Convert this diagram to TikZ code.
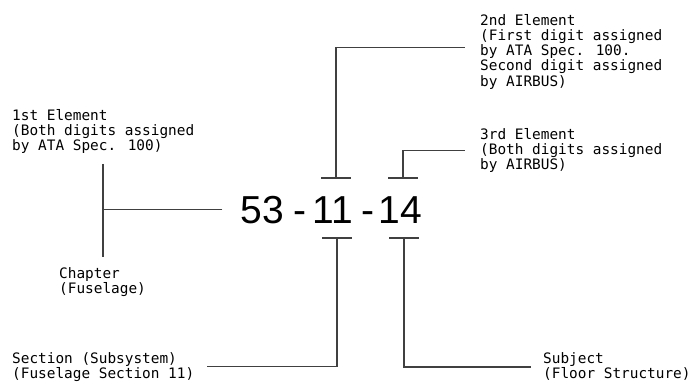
\documentclass[tikz,border=0pt]{standalone}
\usepackage{fontspec}
\newfontfamily\labelfont{DejaVu Sans Mono}
\newfontfamily\numfont{Liberation Sans}
\usetikzlibrary{positioning}
\tikzstyle{line} = [line width=1.5pt, draw=black!75]
\tikzstyle{desc} = [font=\labelfont\fontsize{14.4}{15.3}\selectfont, align=left, inner sep=0pt, anchor=base west]
\tikzstyle{digits} = [font=\numfont\fontsize{39}{39}\selectfont, inner sep=0pt]

\begin{document}
\begin{tikzpicture}[x=1pt, y=-1pt]
\useasboundingbox (0,0) rectangle (691,381);
\node (n53) [digits, anchor=base west] at (240.4,223) {53};
\node (h1) [digits, base right=9.5pt of n53] {-};
\node (n11) [digits, base right=5.5pt of h1] {11};
\node (h2) [digits, base right=8pt of n11] {-};
\node (n14) [digits, base right=3.5pt of h2] {14};

\coordinate (t11) at ([xshift=3pt, yshift=18pt]n11.north);
\coordinate (b11) at ([xshift=4pt, yshift=-15pt]n11.south);
\coordinate (t14) at ([xshift=3pt, yshift=18pt]n14.north);
\coordinate (b14) at ([xshift=4pt, yshift=-15pt]n14.south);
\foreach \t in {t11, b11, t14, b14}
  \draw [line] ([xshift=-15pt]\t) -- ([xshift=15pt]\t);

% base is the last line of each text
\node (first) [desc] at (12,150.6) {1st Element\\(Both digits assigned\\by ATA Spec. 100)};
\node (second) [desc] at (480,86.2) {2nd Element\\(First digit assigned\\by ATA Spec. 100.\\Second digit assigned\\by AIRBUS)};
\node (third) [desc] at (480,169.6) {3rd Element\\(Both digits assigned\\by AIRBUS)};
\node (chapter) [desc] at (59,293.3) {Chapter\\(Fuselage)};
\node (section) [desc] at (12,378.3) {Section (Subsystem)\\(Fuselage Section 11)};
\node (subject) [desc] at (543,378.3) {Subject\\(Floor Structure)};

\draw [line, shorten <=10pt, shorten >=10pt] (first.south) -- (first.south |- chapter.north);
\draw [line, shorten <=18pt] (n53.west) -- (n53.west -| first.south);
\draw [line] (t11) |- ([xshift=-15pt, yshift=4pt]second.west);
\draw [line] (t14) |- ([xshift=-15pt]third.west);
\draw [line] (b11) |- ([xshift=13pt]section.east);
\draw [line] (b14) |- ([xshift=-12pt, yshift=-1pt]subject.west);
\end{tikzpicture}
\end{document}
